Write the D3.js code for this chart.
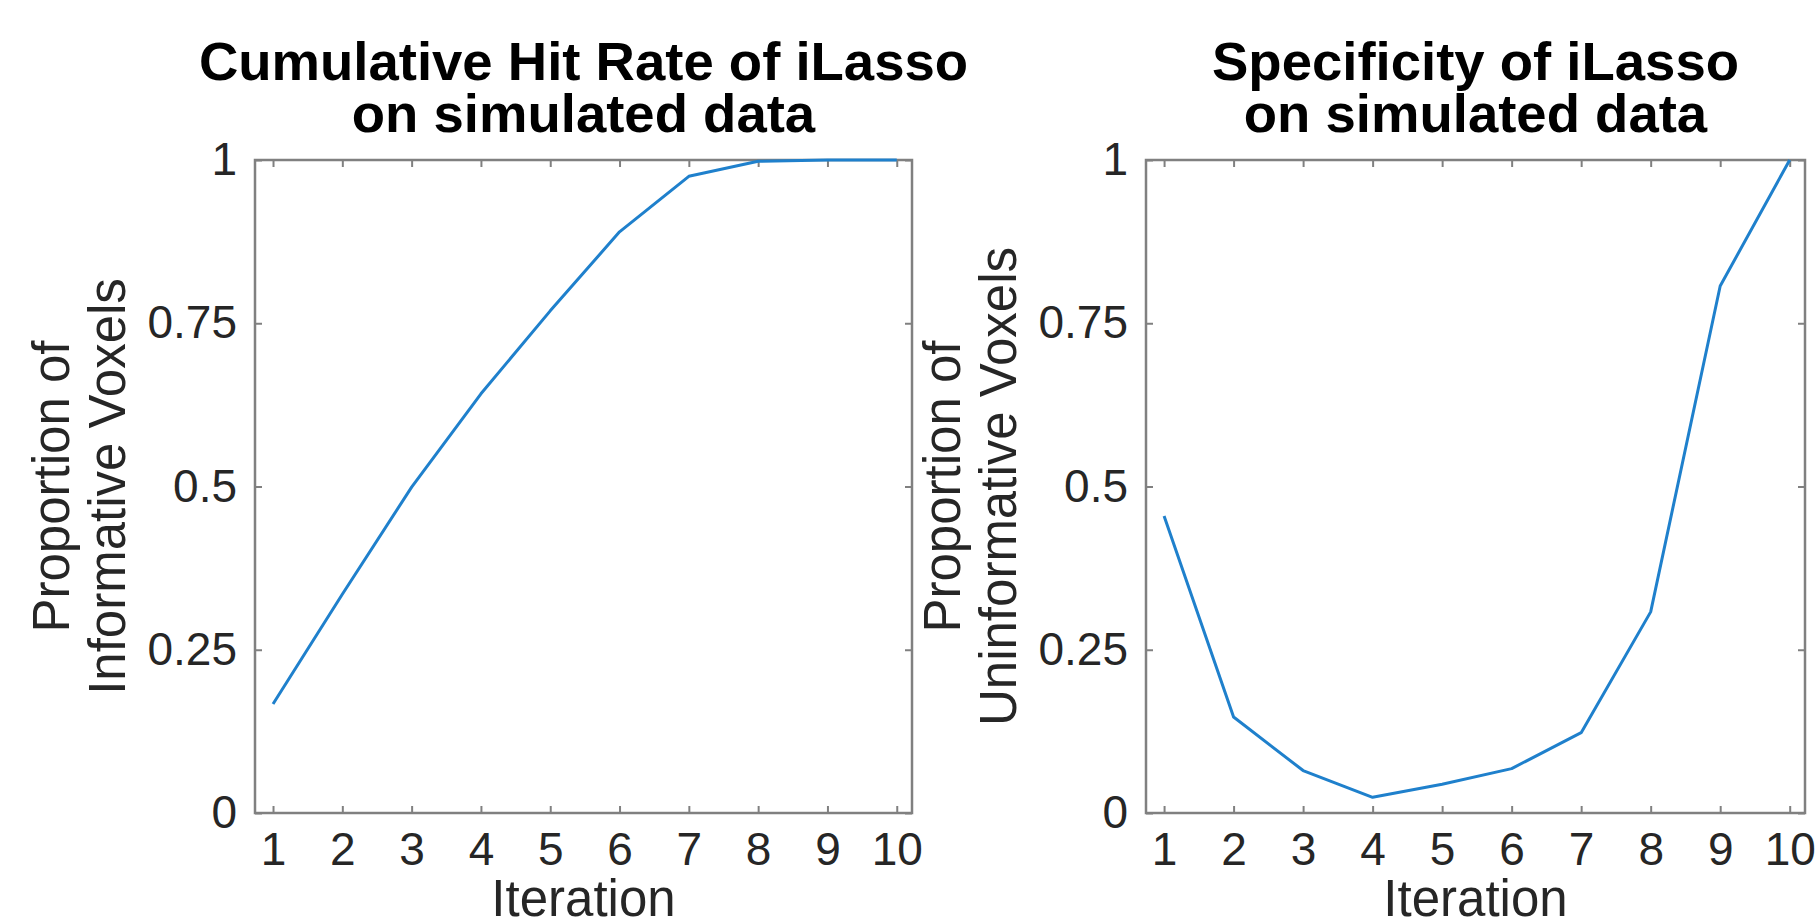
<!DOCTYPE html>
<html>
<head>
<meta charset="utf-8">
<script src="https://cdn.jsdelivr.net/npm/d3@7"></script>
<style>
  body { margin: 0; background: #fff; }
  text { font-family: "Liberation Sans", Arial, Helvetica, sans-serif; }
</style>
</head>
<body>
<div id="chart"></div>
<script>
// two MATLAB-style panels, iLasso on simulated data

var iterations = [1, 2, 3, 4, 5, 6, 7, 8, 9, 10];
var hitRate = [0.167, 0.335, 0.499, 0.642, 0.769, 0.89, 0.975, 0.998, 1.0, 1.0];
var specificity = [0.455, 0.147, 0.065, 0.024, 0.044, 0.068, 0.123, 0.308, 0.807, 1.0];
var yTicks = [0, 0.25, 0.5, 0.75, 1];
var yTickLabels = ["0", "0.25", "0.5", "0.75", "1"];

var panels = [
  { title: ["Cumulative Hit Rate of iLasso", "on simulated data"],
    ylabel: ["Proportion of", "Informative Voxels"],
    values: hitRate, left: 255, right: 912 },
  { title: ["Specificity of iLasso", "on simulated data"],
    ylabel: ["Proportion of", "Uninformative Voxels"],
    values: specificity, left: 1146, right: 1805 }
];

var svgWidth = 1816;
var svgHeight = 917;
var plotTop = 160, plotBottom = 813;
var tickLen = 7;

var svg = d3.select("#chart")
  .append("svg")
  .attr("width", svgWidth)
  .attr("height", svgHeight);

panels.forEach(function(p) {
  var g = svg.append("g");

  var x = d3.scaleLinear()
    .domain([0.74, 10.22])
    .range([p.left, p.right]);
  var y = d3.scaleLinear()
    .domain([0, 1])
    .range([plotBottom, plotTop]);

  // axes with inward ticks
  var xAxis = g.append("g")
    .attr("transform", `translate(0, ${plotBottom})`)
    .call(d3.axisBottom(x).tickValues(iterations).tickSize(-tickLen).tickPadding(19));
  var xTop = g.append("g")
    .attr("transform", `translate(0, ${plotTop})`)
    .call(d3.axisTop(x).tickValues(iterations).tickSize(-tickLen).tickFormat(""));
  var yAxis = g.append("g")
    .attr("transform", `translate(${p.left}, 0)`)
    .call(d3.axisLeft(y).tickValues(yTicks).tickSize(-tickLen).tickPadding(18)
      .tickFormat(function(d, i) { return yTickLabels[i]; }));
  var yRight = g.append("g")
    .attr("transform", `translate(${p.right}, 0)`)
    .call(d3.axisRight(y).tickValues(yTicks).tickSize(-tickLen).tickFormat(""));

  [xAxis, xTop, yAxis, yRight].forEach(function(a) {
    a.select(".domain").remove();
    a.selectAll(".tick line").attr("stroke", "#808080").attr("stroke-width", 2);
    a.selectAll("text")
      .attr("font-size", "46px")
      .attr("fill", "#262626")
      .attr("font-family", "'Liberation Sans', Arial, Helvetica, sans-serif");
  });

  g.append("rect")
    .attr("x", p.left)
    .attr("y", plotTop)
    .attr("width", p.right - p.left)
    .attr("height", plotBottom - plotTop)
    .attr("fill", "none")
    .attr("stroke", "#808080")
    .attr("stroke-width", 2.5);

  var line = d3.line()
    .x(function(d, i) { return x(iterations[i]); })
    .y(function(d) { return y(d); });

  g.append("path")
    .datum(p.values)
    .attr("d", line)
    .attr("fill", "none")
    .attr("stroke", "#1f80cc")
    .attr("stroke-width", 3)
    .attr("stroke-linejoin", "round");

  var cx = (p.left + p.right) / 2;

  // title
  g.append("text")
    .attr("x", cx)
    .attr("y", 80)
    .attr("text-anchor", "middle")
    .attr("font-size", "54.5px")
    .attr("font-weight", "bold")
    .attr("fill", "#000")
    .text(p.title[0]);
  g.append("text")
    .attr("x", cx)
    .attr("y", 132)
    .attr("text-anchor", "middle")
    .attr("font-size", "54.5px")
    .attr("font-weight", "bold")
    .attr("fill", "#000")
    .text(p.title[1]);

  // x label
  g.append("text")
    .attr("x", cx)
    .attr("y", 916)
    .attr("text-anchor", "middle")
    .attr("font-size", "51px")
    .attr("fill", "#262626")
    .text("Iteration");

  // y label, two lines
  var cy = (plotTop + plotBottom) / 2;
  g.append("text")
    .attr("transform", `translate(${p.left - 186}, ${cy}) rotate(-90)`)
    .attr("text-anchor", "middle")
    .attr("font-size", "51px")
    .attr("fill", "#262626")
    .text(p.ylabel[0]);
  g.append("text")
    .attr("transform", `translate(${p.left - 130}, ${cy}) rotate(-90)`)
    .attr("text-anchor", "middle")
    .attr("font-size", "51px")
    .attr("fill", "#262626")
    .text(p.ylabel[1]);
});
</script>
</body>
</html>
